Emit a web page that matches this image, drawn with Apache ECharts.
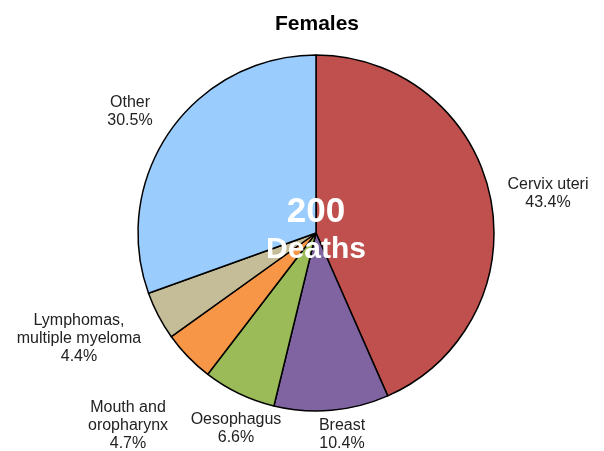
<!DOCTYPE html>
<html>
<head>
<meta charset="utf-8">
<script src="https://cdn.jsdelivr.net/npm/echarts@6/dist/echarts.min.js"></script>
<style>html,body{margin:0;padding:0;background:#fff}#c{width:604px;height:451px}</style>
</head>
<body>
<div id="c"></div>
<script>
const categories = ['Cervix uteri', 'Breast', 'Oesophagus', 'Mouth and\noropharynx', 'Lymphomas,\nmultiple myeloma', 'Other'];
const values = [43.4, 10.4, 6.6, 4.7, 4.4, 30.5];
const colors = ['#C0504D', '#8064A2', '#9BBB59', '#F79646', '#C4BD97', '#9ACCFE'];
// label centre offsets from the pie centre (layout only)
const labelOffsets = [[232, -39], [26, 202], [-80, 196], [-188, 193], [-237, 106], [-186, -121]];
const totalDeaths = 200;
const titleText = 'Females';

const cx = 316, cy = 233, R = 178;

const shadow = {shadowColor: 'rgba(0,0,0,0.55)', shadowBlur: 6, shadowOffsetX: 3, shadowOffsetY: 4};
const chart = echarts.init(document.getElementById('c'), null, {renderer: 'canvas'});
chart.setOption({
  animation: false,
  title: {
    text: titleText, left: cx - 4, top: 9, textAlign: 'center',
    textStyle: {fontFamily: 'Liberation Sans', fontWeight: 'bold', fontSize: 21, color: '#000'}
  },
  graphic: [
    {type: 'text', z: 100, x: cx, y: 212, style: Object.assign({text: String(totalDeaths), fill: '#fff', font: 'bold 35px "Liberation Sans"', align: 'center', verticalAlign: 'middle'}, shadow)},
    {type: 'text', z: 100, x: cx, y: 250, style: Object.assign({text: 'Deaths', fill: '#fff', font: 'bold 30px "Liberation Sans"', align: 'center', verticalAlign: 'middle'}, shadow)}
  ],
  series: [{
    type: 'pie',
    center: [cx, cy],
    radius: R,
    startAngle: 90,
    clockwise: true,
    avoidLabelOverlap: false,
    itemStyle: {borderColor: '#000', borderWidth: 1.5},
    emphasis: {disabled: true},
    label: {
      show: true, position: 'outside',
      formatter: p => p.name + '\n' + p.value.toFixed(1) + '%',
      fontFamily: 'Liberation Sans', fontSize: 16, lineHeight: 18, color: '#222', align: 'center'
    },
    labelLine: {show: false},
    labelLayout: function (p) {
      const o = labelOffsets[p.dataIndex];
      return {x: cx + o[0], y: cy + o[1], align: 'center', verticalAlign: 'middle'};
    },
    data: categories.map((c, i) => ({name: c, value: values[i], itemStyle: {color: colors[i]}}))
  }]
});
</script>
</body>
</html>
